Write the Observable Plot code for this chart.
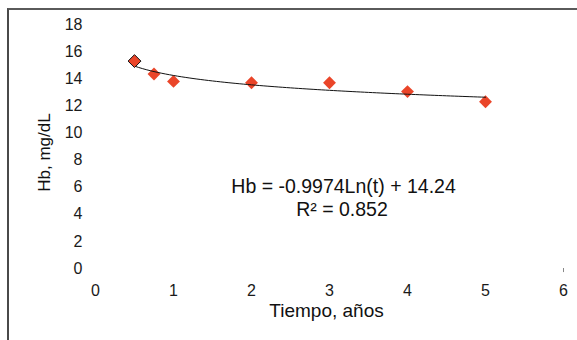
<!DOCTYPE html>
<html>
<head>
<meta charset="utf-8">
<script src="https://cdn.jsdelivr.net/npm/d3@7"></script>
<script src="https://cdn.jsdelivr.net/npm/@observablehq/plot@0.6"></script>
<style>
  html, body { margin: 0; padding: 0; background: #fff; }
  #wrap { position: relative; width: 577px; height: 340px; overflow: hidden; }
  #frame { position: absolute; left: 7px; top: 8px; width: 600px; height: 400px;
           border-top: 2px solid #5a5a5a; border-left: 2px solid #4a4a4a; box-sizing: border-box; }
  #chart { position: absolute; left: 0; top: 0; }
  #chart text.wide { letter-spacing: 0.6px; }
</style>
</head>
<body>
<div id="wrap"><div id="frame"></div><div id="chart"></div></div>
<script>
// Data
const tiempo = [0.5, 0.75, 1, 2, 3, 4, 5];          // years
const hbValues = [15.3, 14.35, 13.8, 13.7, 13.7, 13.05, 12.3]; // mg/dL
const xTicks = [0, 1, 2, 3, 4, 5, 6];
const yTicks = [0, 2, 4, 6, 8, 10, 12, 14, 16, 18];
// Logarithmic trendline shown on the chart
const trendSlope = -0.9974;
const trendIntercept = 14.24;
const rSquared = 0.852;
const trendRange = [0.5, 5];

const points = tiempo.map((t, i) => ({t, hb: hbValues[i]}));
const trend = d3.range(trendRange[0], trendRange[1] + 1e-9, 0.05)
  .map(t => ({t, hb: trendSlope * Math.log(t) + trendIntercept}));

const font = "Liberation Sans, Arial, Helvetica, sans-serif";
const red = "#ea4529";

const chart = Plot.plot({
  width: 577,
  height: 340,
  marginLeft: 95,
  marginRight: 14,
  marginTop: 24,
  marginBottom: 72,
  style: {fontFamily: font, fontSize: "16px", color: "#1a1a1a", background: "transparent", overflow: "visible"},
  x: {domain: [0, 6], ticks: xTicks, tickFormat: d => String(d)},
  y: {domain: [0, 18], ticks: yTicks, tickFormat: d => String(d)},
  marks: [
    Plot.axisX({ticks: xTicks, tickFormat: d => String(d), tickSize: 0, tickPadding: 16, label: null, fontSize: 16}),
    Plot.axisY({ticks: yTicks, tickFormat: d => String(d), tickSize: 0, tickPadding: 13, label: null, fontSize: 16}),
    Plot.ruleX([6], {y1: 0, y2: -0.3, stroke: "#888", strokeWidth: 1}),
    Plot.dot(points.slice(1), {x: "t", y: "hb", symbol: "diamond2", r: 5.8, fill: red, stroke: "none"}),
    Plot.line(trend, {x: "t", y: "hb", stroke: "#111", strokeWidth: 1}),
    Plot.dot(points.slice(0, 1), {x: "t", y: "hb", symbol: "diamond2", r: 5.8, fill: red, stroke: "#111", strokeWidth: 1}),
    Plot.text([`Hb = ${trendSlope}Ln(t) + ${trendIntercept}`], {x: 3.18, y: 6.0, text: d => d, fontSize: 19.5, fill: "#111", textAnchor: "middle", lineAnchor: "middle", className: "wide"}),
    Plot.text([`R² = ${rSquared}`], {x: 3.16, y: 4.37, text: d => d, fontSize: 19.5, fill: "#111", textAnchor: "middle", lineAnchor: "middle", className: "wide"}),
    Plot.text(["Tiempo, años"], {frameAnchor: "bottom", dx: -3, dy: 42, text: d => d, fontSize: 19, fill: "#111", textAnchor: "middle", lineAnchor: "middle", className: "wide"}),
    Plot.text(["Hb, mg/dL"], {frameAnchor: "left", dx: -51, dy: 6, rotate: -90, text: d => d, fontSize: 17, fill: "#111", textAnchor: "middle", lineAnchor: "middle"})
  ]
});
document.getElementById("chart").appendChild(chart);
</script>
</body>
</html>
